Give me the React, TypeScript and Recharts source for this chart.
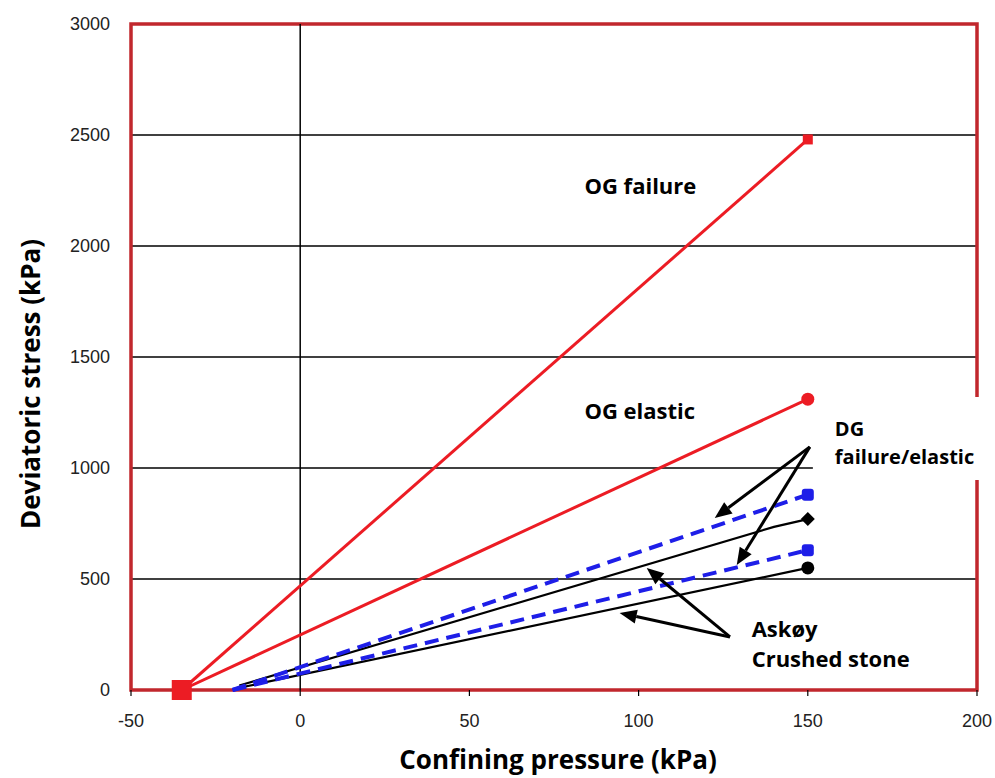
import React from 'react';
import {
  ComposedChart,
  Line,
  XAxis,
  YAxis,
  CartesianGrid,
  ReferenceLine,
  ReferenceArea,
  ReferenceDot,
} from 'recharts';

// ---- data ----
const xTicks = [-50, 0, 50, 100, 150, 200];
const yTicks = [0, 500, 1000, 1500, 2000, 2500, 3000];

const ogFailure = [
  { x: -35, y: 0 },
  { x: 150, y: 2480 },
];
const ogElastic = [
  { x: -35, y: 0 },
  { x: 150, y: 1310 },
];
const dgUpper = [
  { x: -20, y: 0 },
  { x: 150, y: 880 },
];
const dgLower = [
  { x: -20, y: 0 },
  { x: 150, y: 630 },
];
const askUpper = [
  { x: -18, y: 20 },
  { x: 140, y: 735 },
  { x: 150, y: 770 },
];
const askLower = [
  { x: -18, y: 10 },
  { x: 150, y: 550 },
];

const labels = [
  { text: 'OG failure', x: 84, y: 2275, size: 22 },
  { text: 'OG elastic', x: 84, y: 1261, size: 22 },
  { text: 'DG', x: 158, y: 1180, size: 20 },
  { text: 'failure/elastic', x: 158, y: 1054, size: 20 },
  { text: 'Askøy', x: 133.4, y: 279, size: 22 },
  { text: 'Crushed stone', x: 133.4, y: 144, size: 22 },
];

const arrows = [
  [{ x: 150.6, y: 1095 }, { x: 122.5, y: 775 }],
  [{ x: 150.6, y: 1095 }, { x: 129, y: 563 }],
  [{ x: 127, y: 239 }, { x: 102.4, y: 550 }],
  [{ x: 127, y: 239 }, { x: 94.4, y: 347 }],
];

const RED = '#ec1c24';
const BLUE = '#1e1ee8';
const BORDER = '#c1272d';
const FONT = '"Open Sans", "Noto Sans", sans-serif';

type Shape = 'square' | 'bigsquare' | 'circle' | 'rsquare' | 'diamond' | 'none';

const makeDot = (first: Shape, last: Shape, color: string, n: number) => (props: any) => {
  const { cx, cy, index } = props;
  const shape = index === 0 ? first : index === n - 1 ? last : 'none';
  const k = `d${index}`;
  if (cx == null || cy == null || shape === 'none') return <g key={k} />;
  if (shape === 'bigsquare')
    return <rect key={k} x={cx - 10} y={cy - 10} width={20} height={20} fill={color} />;
  if (shape === 'square')
    return <rect key={k} x={cx - 5} y={cy - 5} width={10} height={10} fill={color} />;
  if (shape === 'rsquare')
    return <rect key={k} x={cx - 6} y={cy - 6} width={12} height={12} rx={3} fill={color} />;
  if (shape === 'circle') return <circle key={k} cx={cx} cy={cy} r={6.5} fill={color} />;
  return (
    <polygon
      key={k}
      points={`${cx},${cy - 7} ${cx + 7},${cy} ${cx},${cy + 7} ${cx - 7},${cy}`}
      fill={color}
    />
  );
};

const Arrow = (props: any) => {
  const { x1, y1, x2, y2 } = props;
  const ang = Math.atan2(y2 - y1, x2 - x1);
  const L = 17;
  const W = 7;
  const bx = x2 - L * Math.cos(ang);
  const by = y2 - L * Math.sin(ang);
  const px = -Math.sin(ang) * W;
  const py = Math.cos(ang) * W;
  return (
    <g>
      <line x1={x1} y1={y1} x2={bx} y2={by} stroke="#000" strokeWidth={3} />
      <polygon points={`${x2},${y2} ${bx + px},${by + py} ${bx - px},${by - py}`} fill="#000" />
    </g>
  );
};

const TextShape = (text: string, size: number) => (p: any) => (
  <text
    x={p.cx}
    y={p.cy}
    dominantBaseline="central"
    fontFamily={FONT}
    fontWeight={700}
    fontSize={size}
    fill="#000"
  >
    {text}
  </text>
);

const XTitle = (props: any) => {
  const vb = props.viewBox || {};
  const cx = vb.x + vb.width / 2 + 4;
  return (
    <text
      x={cx}
      y={759}
      textAnchor="middle"
      dominantBaseline="central"
      fontFamily={FONT}
      fontWeight={700}
      fontSize={26}
      fill="#000"
    >
      Confining pressure (kPa)
    </text>
  );
};

const YTitle = (props: any) => {
  const vb = props.viewBox || {};
  const cx = 30;
  const cy = vb.y + vb.height / 2 + 27;
  return (
    <text
      x={cx}
      y={cy}
      transform={`rotate(-90 ${cx} ${cy})`}
      textAnchor="middle"
      dominantBaseline="central"
      fontFamily={FONT}
      fontWeight={700}
      fontSize={26}
      fill="#000"
    >
      Deviatoric stress (kPa)
    </text>
  );
};

const tickStyle = { fontFamily: '"Liberation Sans", Arial, sans-serif', fontSize: 18, fill: '#222' };

export default function App() {
  return (
    <div style={{ position: 'absolute', left: 0, top: 0, width: 995, height: 778, background: '#fff' }}>
      <ComposedChart
        width={995}
        height={778}
        margin={{ top: 24, right: 18, bottom: 0, left: 0 }}
      >
        <CartesianGrid vertical={false} stroke="#000" strokeWidth={1.5} />
        <XAxis
          type="number"
          dataKey="x"
          domain={[-50, 200]}
          ticks={xTicks}
          height={88}
          axisLine={false}
          tickLine={{ stroke: '#000', strokeWidth: 1.2 }}
          tickSize={6}
          tickMargin={18}
          tick={tickStyle}
          label={{ content: XTitle }}
        />
        <YAxis
          type="number"
          domain={[0, 3000]}
          ticks={yTicks}
          width={131}
          axisLine={false}
          tickLine={false}
          tickSize={10}
          tickMargin={11}
          tick={tickStyle}
          label={{ content: YTitle }}
        />
        <ReferenceLine x={0} stroke="#000" strokeWidth={1.5} />
        <ReferenceArea
          x1={-50}
          x2={200}
          y1={0}
          y2={3000}
          fill="none"
          fillOpacity={0}
          stroke={BORDER}
          strokeWidth={3.5}
          ifOverflow="visible"
        />
        <ReferenceArea
          x1={151.5}
          x2={203.8}
          y1={946}
          y2={1320}
          fill="#fff"
          fillOpacity={1}
          stroke="none"
          ifOverflow="visible"
        />
        <ReferenceArea
          x1={127}
          x2={181.7}
          y1={36}
          y2={383}
          fill="#fff"
          fillOpacity={1}
          stroke="none"
          ifOverflow="visible"
        />
        <Line
          data={askLower}
          dataKey="y"
          stroke="#000"
          strokeWidth={2.2}
          dot={makeDot('none', 'circle', '#000', askLower.length)}
          isAnimationActive={false}
        />
        <Line
          data={askUpper}
          dataKey="y"
          stroke="#000"
          strokeWidth={2.2}
          dot={makeDot('none', 'diamond', '#000', askUpper.length)}
          isAnimationActive={false}
        />
        <Line
          data={dgLower}
          dataKey="y"
          stroke={BLUE}
          strokeWidth={4}
          strokeDasharray="14 8"
          dot={makeDot('none', 'rsquare', BLUE, dgLower.length)}
          isAnimationActive={false}
        />
        <Line
          data={dgUpper}
          dataKey="y"
          stroke={BLUE}
          strokeWidth={4}
          strokeDasharray="14 8"
          dot={makeDot('none', 'rsquare', BLUE, dgUpper.length)}
          isAnimationActive={false}
        />
        <Line
          data={ogElastic}
          dataKey="y"
          stroke={RED}
          strokeWidth={3}
          dot={makeDot('none', 'circle', RED, ogElastic.length)}
          isAnimationActive={false}
        />
        <Line
          data={ogFailure}
          dataKey="y"
          stroke={RED}
          strokeWidth={3}
          dot={makeDot('bigsquare', 'square', RED, ogFailure.length)}
          isAnimationActive={false}
        />
        {arrows.map((seg, i) => (
          <ReferenceLine key={`a${i}`} segment={seg} ifOverflow="visible" shape={Arrow} />
        ))}
        {labels.map((l, i) => (
          <ReferenceDot
            key={`l${i}`}
            x={l.x}
            y={l.y}
            r={0}
            ifOverflow="visible"
            shape={TextShape(l.text, l.size)}
          />
        ))}
      </ComposedChart>
    </div>
  );
}
